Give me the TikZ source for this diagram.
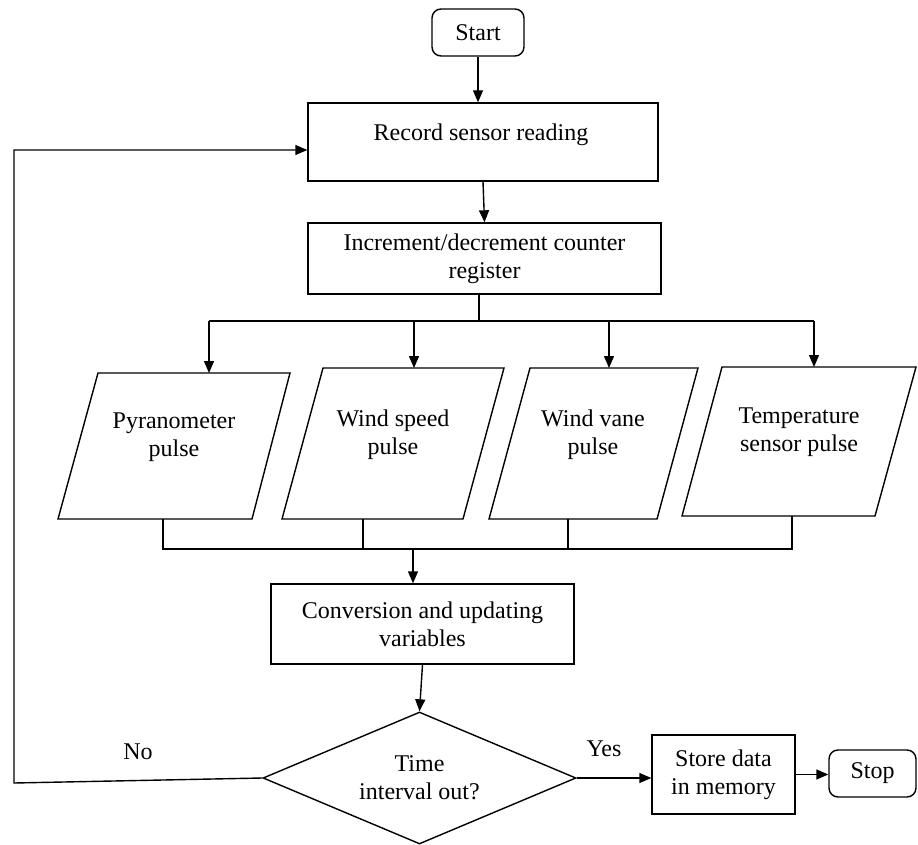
\documentclass[tikz,border=0pt]{standalone}
\usepackage{fontspec}
\setmainfont{Liberation Serif}
\usetikzlibrary{shapes.geometric,arrows.meta}
\begin{document}
\begin{tikzpicture}[x=1pt,y=-1pt,
  every node/.style={font=\fontsize{24}{28}\selectfont, inner sep=0pt},
  box/.style={draw, line width=1.4pt, rectangle, align=center},
  term/.style={draw, line width=1.4pt, rounded corners=9pt, align=center},
  dec/.style={draw, line width=1.4pt, diamond, shape aspect=2.37, minimum width=313pt, minimum height=132pt, align=center},
  arr/.style={line width=1.4pt, -{Triangle[length=12pt,width=10pt]}},
  ln/.style={line width=1.4pt},
  para/.style={draw, line width=1.4pt}]
\useasboundingbox (0,0) rectangle (918,845);

% main boxes
\node[term, minimum width=92pt, minimum height=47pt] (start) at (478,32.5) {Start};
\node[box, minimum width=350pt, minimum height=78pt] (rec) at (483,142) {};
\node (rectxt) at (481,135) {Record sensor reading};
\node[box, minimum width=353pt, minimum height=71pt] (inc) at (484.5,258.5) {Increment/decrement counter\\register};
\node[box, minimum width=303pt, minimum height=80pt] (conv) at (422.5,624) {Conversion and updating\\variables};
\node[dec] (dia) at (419.5,778) {Time\\interval out?};
\node[box, minimum width=143pt, minimum height=79pt] (store) at (723.5,774.5) {Store data\\in memory};
\node[term, minimum width=87pt, minimum height=47pt] (stop) at (872.5,773.5) {Stop};
\node (no) at (138,752) {No};
\node (yes) at (604,749) {Yes};

% parallelograms
\draw[para] (98,373) -- (290,373) -- (252,519) -- (58,519) -- cycle;
\draw[para] (323,368) -- (504,368) -- (463,519) -- (282,519) -- cycle;
\draw[para] (530,368) -- (698,368) -- (657,519) -- (489,519) -- cycle;
\draw[para] (722,367) -- (916,367) -- (875,516) -- (682,516) -- cycle;
\node[align=center] (p1) at (174,437) {Pyranometer\\pulse};
\node[align=center] (p2) at (393,435) {Wind speed\\pulse};
\node[align=center] (p3) at (593,435) {Wind vane\\pulse};
\node[align=center] (p4) at (799,432) {Temperature\\sensor pulse};

\coordinate (p1top) at (209,373);
\coordinate (p2top) at (414,368);
\coordinate (p3top) at (609,368);
\coordinate (p4top) at (814,367);
\coordinate (p1bot) at (163,519);
\coordinate (p2bot) at (363,519);
\coordinate (p3bot) at (568,519);
\coordinate (p4bot) at (792,516);

% top flow
\draw[arr] (start.south) -- (start.south |- rec.north);
\draw[arr] (rec.south) -- (inc.north);

% branch
\coordinate (bj) at (479,321);
\coordinate (bl) at (209,321);
\coordinate (br) at (814,321);
\draw[ln] (bj |- inc.south) -- (bj);
\draw[ln] (bl) -- (br);
\draw[arr] (bl) -- (p1top);
\draw[arr] (p2top |- bl) -- (p2top);
\draw[arr] (p3top |- bl) -- (p3top);
\draw[arr] (br) -- (p4top);

% merge
\coordinate (ml) at (163,549);
\coordinate (mr) at (792,549);
\coordinate (mj) at (413,549);
\draw[ln] (p1bot) -- (ml) -- (mr) -- (p4bot);
\draw[ln] (p2bot) -- (p2bot |- ml);
\draw[ln] (p3bot) -- (p3bot |- ml);
\draw[arr] (mj) -- (mj |- conv.north);

% decision
\draw[arr] (conv.south) -- (dia.north);
\draw[arr] (dia.east) -- (dia.east -| store.west);
\draw[arr] (store.east) -- (store.east -| stop.west);

% loop back
\coordinate (l1) at (14,783);
\coordinate (l2) at (14,150);
\draw[arr] (dia.west) -- (l1) -- (l2) -- (l2 -| rec.west);
\end{tikzpicture}
\end{document}
